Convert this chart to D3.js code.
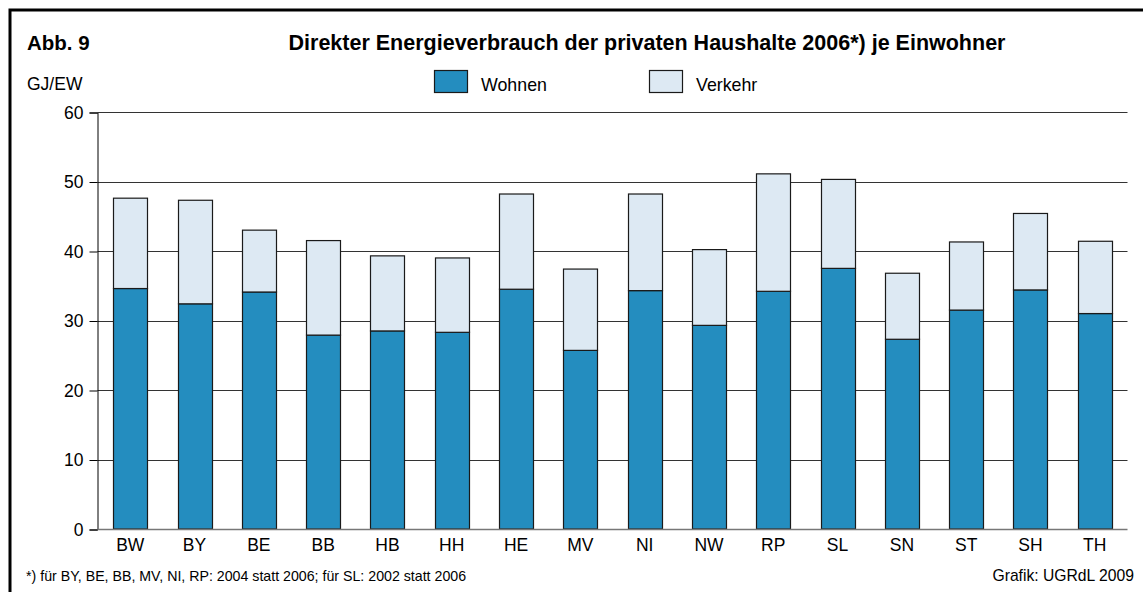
<!DOCTYPE html>
<html>
<head>
<meta charset="utf-8">
<script src="https://cdn.jsdelivr.net/npm/d3@7"></script>
<style>
  html, body { margin: 0; padding: 0; background: #fff; overflow: hidden; }
  svg { display: block; font-family: "Liberation Sans", Arial, sans-serif; }
</style>
</head>
<body>
<script>
"use strict";

// Data

let laender = ["BW", "BY", "BE", "BB", "HB", "HH", "HE", "MV", "NI", "NW", "RP", "SL", "SN", "ST", "SH", "TH"];
let wohnen  = [34.6, 32.4, 34.1, 27.9, 28.5, 28.3, 34.5, 25.7, 34.3, 29.3, 34.2, 37.5, 27.3, 31.5, 34.4, 31.0];
let verkehr = [13.0, 14.9,  8.9, 13.6, 10.8, 10.7, 13.7, 11.7, 13.9, 10.9, 16.9, 12.8,  9.5,  9.8, 11.0, 10.4];
let yTicks = [0, 10, 20, 30, 40, 50, 60];
let series = ["Wohnen", "Verkehr"];

let colors = {Wohnen: "#248dbf", Verkehr: "#dde9f3"};

let svgWidth = 1143;
let svgHeight = 592;

let svg = d3.select("body").append("svg")
    .attr("width", svgWidth)
    .attr("height", svgHeight);

// Frame
svg.append("rect")
    .attr("x", 10).attr("y", 10)
    .attr("width", svgWidth + 20).attr("height", svgHeight + 20)
    .attr("fill", "none")
    .attr("stroke", "#000")
    .attr("stroke-width", 3);

// Titles
svg.append("text")
    .attr("x", 27).attr("y", 50)
    .style("font-size", "20.5px").style("font-weight", "bold")
    .text("Abb. 9");

svg.append("text")
    .attr("x", 647).attr("y", 50)
    .attr("text-anchor", "middle")
    .style("font-size", "21.5px").style("font-weight", "bold")
    .text("Direkter Energieverbrauch der privaten Haushalte 2006*) je Einwohner");

svg.append("text")
    .attr("x", 27).attr("y", 90)
    .style("font-size", "17.5px")
    .text("GJ/EW");

// Scales

let xScale = d3.scaleBand()
    .domain(laender)
    .range([97.5, 1127.5])
    .paddingInner(0.472)
    .paddingOuter(0.245);

let yScale = d3.scaleLinear()
    .domain([0, 60])
    .range([529, 112]);

// Gridlines
let grid = svg.append("g");
grid.selectAll("line")
    .data(yTicks.filter(d => d > 0))
    .join("line")
    .attr("x1", 97.5).attr("x2", 1127.5)
    .attr("y1", d => Math.round(yScale(d)) + 0.5)
    .attr("y2", d => Math.round(yScale(d)) + 0.5)
    .attr("stroke", "#333")
    .attr("stroke-width", 1);

// Y axis
let yAxis = d3.axisLeft(yScale)
    .tickValues(yTicks)
    .tickSize(8)
    .tickPadding(6)
    .tickFormat(d3.format("d"));

let gy = svg.append("g")
    .attr("transform", "translate(97.5, 0.5)")
    .call(yAxis);

gy.select(".domain").attr("stroke", "#000");
gy.selectAll(".tick line").attr("stroke", "#000");
gy.selectAll(".tick text")
    .style("font-size", "17.5px")
    .style("font-family", "'Liberation Sans', Arial, sans-serif")
    .attr("fill", "#000");

// Stacked bars
let rows = laender.map((land, i) => ({land: land, Wohnen: wohnen[i], Verkehr: verkehr[i]}));
let stacked = d3.stack().keys(series)(rows);

let bars = svg.append("g");
bars.selectAll("g")
    .data(stacked)
    .join("g")
    .attr("fill", d => colors[d.key])
    .selectAll("rect")
    .data(d => d)
    .join("rect")
    .attr("x", d => Math.round(xScale(d.data.land)) + 0.5)
    .attr("y", d => yScale(d[1]))
    .attr("width", Math.round(xScale.bandwidth()))
    .attr("height", d => yScale(d[0]) - yScale(d[1]))
    .attr("stroke", "#1a1a1a")
    .attr("stroke-width", 1.2);

// Baseline
svg.append("line")
    .attr("x1", 97.5).attr("x2", 1127.5)
    .attr("y1", yScale(0) + 0.5).attr("y2", yScale(0) + 0.5)
    .attr("stroke", "#777")
    .attr("stroke-width", 1.5);

// X labels
let xAxis = d3.axisBottom(xScale).tickSize(0).tickPadding(10);
let gx = svg.append("g")
    .attr("transform", `translate(0, ${yScale(0)})`)
    .call(xAxis);
gx.select(".domain").remove();
gx.selectAll(".tick text")
    .style("font-size", "17.5px")
    .style("font-family", "'Liberation Sans', Arial, sans-serif")
    .attr("fill", "#000");

// Legend
let legendX = [434, 649];
let legend = svg.append("g");
series.forEach((s, i) => {
    legend.append("rect")
        .attr("x", legendX[i] + 0.5).attr("y", 70.5)
        .attr("width", 33).attr("height", 22)
        .attr("fill", colors[s])
        .attr("stroke", "#1a1a1a")
        .attr("stroke-width", 1.2);
    legend.append("text")
        .attr("x", legendX[i] + 47).attr("y", 91)
        .style("font-size", "17.8px")
        .text(s);
});

// Footer
svg.append("text")
    .attr("x", 26).attr("y", 581)
    .style("font-size", "14.2px")
    .text("*) für BY, BE, BB, MV, NI, RP: 2004 statt 2006; für SL: 2002 statt 2006");

svg.append("text")
    .attr("x", 1134).attr("y", 581)
    .attr("text-anchor", "end")
    .style("font-size", "15.7px")
    .text("Grafik: UGRdL 2009");
</script>
</body>
</html>
